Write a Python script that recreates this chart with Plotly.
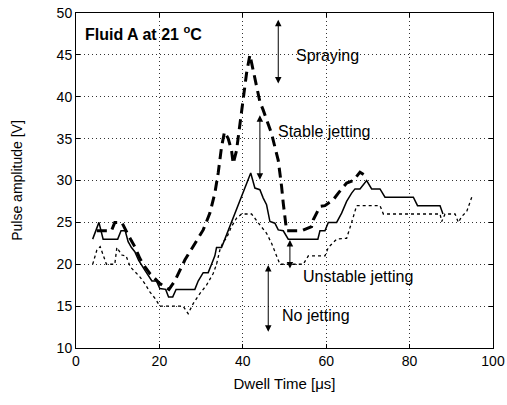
import plotly.graph_objects as go

# Upper threshold (dashed): Spraying boundary
dash_x = [5, 8.5, 9.3, 11, 12.5, 14.1, 15.3, 16.5, 17.7, 20.1, 22.3, 23.7, 26.1, 28.1, 30.5, 32.1, 33.3, 34.1,
          34.9, 35.6, 36.5, 37.3, 37.7, 38.5, 39.3, 40.1, 40.9, 41.7, 42.5, 43.3, 44.1, 44.9, 45.7, 46.9, 48.5,
          48.9, 49.3, 49.7, 50.1, 50.5, 54.1, 56.5, 56.9, 58.5, 59.7, 61.7, 62.9, 64.9, 66.5, 68.1, 69.7]
dash_y = [24, 24, 25, 25, 23.5, 22.1, 20.7, 19.7, 18.9, 17.7, 17, 18, 20.5, 22.1, 24.1, 26.1, 28.5, 30.9,
          34, 35.8, 35, 33.6, 32, 33.6, 36.8, 39.6, 42.8, 45, 43.2, 41.2, 39.4, 38.4, 37.2, 35.6, 32.4,
          31, 29.3, 27.3, 25.3, 24, 24, 24.5, 25.3, 26.9, 27, 27.7, 28.5, 29.7, 30, 31, 30.5]

# Middle threshold (solid): stable jetting boundary
solid_x = [4, 5.5, 6.5, 10, 10.8, 11.8, 12.5, 13.3, 14.1, 15, 16.5, 17.3, 18.2, 19.3, 20.1, 21.5, 22.2, 23.2,
           24, 28.5, 29.3, 30.5, 31.7, 32.5, 33.3, 33.7, 34.9, 35.7, 36.9, 38.1, 39.3, 40.5, 41.9, 42.9, 44.1,
           44.9, 45.7, 46.5, 47.7, 48.5, 49.7, 50.9, 58, 58.5, 59.7, 60.5, 62.5, 63.7, 64.9, 66.1, 66.9, 68.1,
           69.7, 70.9, 72.9, 74.1, 80.9, 81.9, 87.3, 88]
solid_y = [23, 25, 23, 23, 24, 24, 22.7, 22, 21.5, 20.5, 19.3, 18.7, 18, 18, 17.1, 17, 16.1, 16.1,
           17, 17, 18, 19, 19, 20, 21, 22, 22, 23, 24.5, 26, 27.7, 29.1, 30.9, 29.1, 28.9,
           27.9, 27.1, 25.1, 24.9, 24.1, 24, 23, 23, 24, 24, 25, 25, 26.1, 27.5, 28.5, 29, 29,
           30, 29, 29, 28, 28, 27, 27, 26]

# Lower threshold (dotted): jetting onset
dot_x = [4, 5, 5.8, 6.5, 7.3, 9.3, 9.8, 11, 12, 13, 14.1, 15.3, 16.5, 17.7, 19, 20.1, 25.7, 26.9, 28.1, 29.7,
         31.3, 32.9, 33.7, 34.5, 35.3, 36.1, 37.3, 38.5, 39.7, 42.1, 44.1, 45.7, 46.9, 48.1, 48.9, 54.5, 55.7,
         59.7, 60.5, 62.5, 64.9, 66.1, 67.3, 72.9, 73.7, 87.3, 87.7, 88.5, 90.9, 91.7, 92.5, 93.7, 94.9]
dot_y = [20, 21.7, 22.1, 21.1, 20, 20, 22, 21.1, 21, 19.7, 19.1, 18.5, 17.7, 16.7, 15.9, 15, 15, 14.1, 15.3, 16.5,
         17.5, 18.9, 20, 21.7, 22.7, 23.1, 24.5, 25.5, 26, 26, 24.7, 23.7, 22.5, 21, 20, 20, 21,
         21, 22, 23, 23.1, 25, 27, 27, 26, 26, 25.1, 26, 26, 25, 25.7, 26.3, 28]

x_ticks = [0, 20, 40, 60, 80, 100]
y_ticks = [10, 15, 20, 25, 30, 35, 40, 45, 50]

# Regime labels: (text, text x, text y, arrow x, arrow top, arrow bottom)
regime_labels = ["Spraying", "Stable jetting", "Unstable jetting", "No jetting"]
label_x = [52.3, 48.0, 54.0, 48.8]
label_y = [44.9, 35.8, 18.5, 13.9]
arrow_x = [48.5, 44.1, 51.3, 46.1]
arrow_top = [49.2, 37.8, 22.9, 19.9]
arrow_bot = [41.4, 29.9, 19.3, 11.75]

FONT = "Liberation Sans, Arial, sans-serif"

fig = go.Figure()
fig.add_trace(go.Scatter(x=dot_x, y=dot_y, mode="lines",
                         line=dict(color="black", width=1.3, dash="dot"), showlegend=False))
fig.add_trace(go.Scatter(x=solid_x, y=solid_y, mode="lines",
                         line=dict(color="black", width=1.5), showlegend=False))
fig.add_trace(go.Scatter(x=dash_x, y=dash_y, mode="lines",
                         line=dict(color="black", width=3, dash="10px,6px"), showlegend=False))

annotations = []
for t, tx, ty, axx, top, bot in zip(regime_labels, label_x, label_y, arrow_x, arrow_top, arrow_bot):
    annotations.append(dict(x=axx, y=top, ax=axx, ay=bot, xref="x", yref="y", axref="x", ayref="y",
                            text="", showarrow=True, arrowhead=2, startarrowhead=2, arrowside="end+start",
                            arrowsize=1.3, startarrowsize=1.3, arrowwidth=1, arrowcolor="black"))
    annotations.append(dict(x=tx, y=ty, xref="x", yref="y", text=t, showarrow=False,
                            xanchor="left", yanchor="middle",
                            font=dict(family=FONT, size=16, color="black")))
annotations.append(dict(x=1.6, y=47.6, xref="x", yref="y", text="<b>Fluid A at 21 <sup>o</sup>C</b>",
                        showarrow=False, xanchor="left", yanchor="middle",
                        font=dict(family=FONT, size=16, color="black")))

fig.update_layout(
    width=507, height=405,
    margin=dict(l=76, r=14, t=13, b=57),
    paper_bgcolor="white", plot_bgcolor="white",
    font=dict(family=FONT, size=14, color="black"),
    annotations=annotations,
    xaxis=dict(range=[0, 100], tickvals=x_ticks, showgrid=True, gridcolor="#333", griddash="1px,3px",
               gridwidth=1, showline=True, linecolor="black", linewidth=1, mirror="ticks",
               ticks="inside", ticklen=4, tickcolor="black", zeroline=False, automargin=False,
               title=dict(text="Dwell Time [μs]", standoff=10, font=dict(size=15)), tickfont=dict(size=14)),
    yaxis=dict(range=[10, 50], tickvals=y_ticks, showgrid=True, gridcolor="#333", griddash="1px,3px",
               gridwidth=1, showline=True, linecolor="black", linewidth=1, mirror="ticks",
               ticks="inside", ticklen=4, tickcolor="black", zeroline=False, automargin=False,
               title=dict(text="Pulse amplitude [V]", standoff=30, font=dict(size=14)), tickfont=dict(size=14)),
)

fig.write_html("out.html", config={"displayModeBar": False},
               post_script="document.body.style.margin='0';document.body.style.overflow='hidden';")
